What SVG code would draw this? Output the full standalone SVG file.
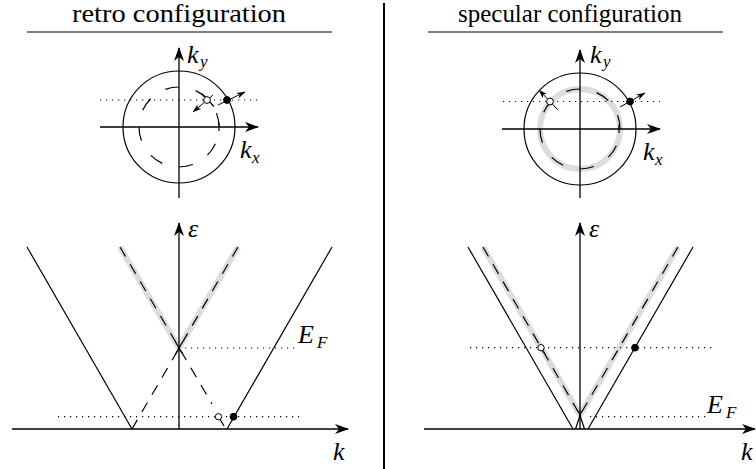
<svg xmlns="http://www.w3.org/2000/svg" width="756" height="469" viewBox="0 0 756 469">
<defs>
<style>
.ln{stroke:#000;stroke-width:1.2;fill:none}
.ax{stroke:#000;stroke-width:1.3;fill:none;marker-end:url(#big)}
.pa{stroke:#000;stroke-width:1;fill:none;marker-end:url(#sm)}
.dot{stroke:#000;stroke-width:1.2;fill:none;stroke-dasharray:1.2 4.8}
.dash{stroke:#000;stroke-width:1.2;fill:none;stroke-dasharray:11 9}
.gray{stroke:#dcdcdc;stroke-width:6;fill:none;stroke-linejoin:round}
.e{fill:#000;stroke:#000;stroke-width:1}
.h{fill:#fff;stroke:#000;stroke-width:1}
</style>
<marker id="big" viewBox="0 0 14 10" refX="13" refY="5" markerWidth="14" markerHeight="10" markerUnits="userSpaceOnUse" orient="auto">
<path d="M0,0 L14,5 L0,10 L4,5 Z" fill="#000"/>
</marker>
<marker id="sm" viewBox="0 0 9 6" refX="8.5" refY="3" markerWidth="9" markerHeight="6" markerUnits="userSpaceOnUse" orient="auto">
<path d="M0,0 L9,3 L0,6 L2.5,3 Z" fill="#000"/>
</marker>
</defs>

<g id="titles" font-family="'Liberation Serif', serif" font-size="25">
<text x="179" y="22" text-anchor="middle" textLength="214" lengthAdjust="spacingAndGlyphs">retro configuration</text>
<line class="ln" x1="27" y1="32" x2="332" y2="32" stroke-width="1.3"/>
<text x="570" y="22" text-anchor="middle" textLength="224" lengthAdjust="spacingAndGlyphs">specular configuration</text>
<line class="ln" x1="428" y1="32" x2="723" y2="32" stroke-width="1.3"/>
<line x1="384" y1="3" x2="384" y2="469" stroke="#000" stroke-width="2"/>
</g>

<g id="retro-k-space" font-family="'Liberation Serif', serif" font-style="italic" font-size="26">
<circle class="ln" cx="179" cy="127" r="56"/>
<path class="dash" style="stroke-dasharray:14 17.4" d="M179,87 A40,40 0 1 0 179,167 A40,40 0 1 0 179,87"/>
<line class="dot" x1="100" y1="100" x2="262" y2="100"/>
<line class="ax" x1="100" y1="127" x2="258" y2="127"/>
<line class="ax" x1="179" y1="198" x2="179" y2="48"/>
<line class="ln" x1="219" y1="122.5" x2="219" y2="131"/>
<line class="ln" x1="201.5" y1="93.5" x2="214" y2="106.5" stroke-width="1"/>
<line class="pa" x1="213" y1="95" x2="193" y2="112"/>
<circle class="h" cx="207" cy="100" r="3.4"/>
<line class="pa" x1="218" y1="105" x2="245" y2="92"/>
<circle class="e" cx="227" cy="100" r="3.4"/>
<text x="187" y="63">k</text><text x="200" y="67" font-size="17">y</text>
<text x="240" y="158">k</text><text x="252" y="163" font-size="17">x</text>
</g>

<g id="specular-k-space" font-family="'Liberation Serif', serif" font-style="italic" font-size="26">
<circle class="ln" cx="580" cy="129" r="56"/>
<circle class="gray" cx="580" cy="129" r="40" stroke-width="5"/>
<path class="dash" style="stroke-dasharray:14 17.4" d="M580,89 A40,40 0 1 0 580,169 A40,40 0 1 0 580,89"/>
<line class="dot" x1="503" y1="101.5" x2="660" y2="101.5"/>
<line class="ax" x1="502" y1="129" x2="660" y2="129"/>
<line class="ax" x1="580" y1="198" x2="580" y2="50"/>
<line class="ln" x1="619" y1="124.5" x2="619" y2="133"/>
<line class="pa" x1="558" y1="110" x2="539" y2="90"/>
<circle class="h" cx="550" cy="101.5" r="3.4"/>
<line class="pa" x1="620" y1="107" x2="645" y2="93"/>
<circle class="e" cx="630" cy="101.5" r="3.4"/>
<text x="590" y="63">k</text><text x="603" y="67" font-size="17">y</text>
<text x="643" y="160">k</text><text x="655" y="165" font-size="17">x</text>
</g>

<g id="retro-dispersion" font-family="'Liberation Serif', serif" font-style="italic" font-size="26">
<polyline class="gray" points="120,247 179,348 238,247"/>
<line class="dot" x1="179" y1="348" x2="297" y2="348"/>
<line class="dot" x1="58" y1="416.7" x2="300" y2="416.7"/>
<line class="ln" x1="27" y1="247" x2="132" y2="429"/>
<line class="ln" x1="227" y1="429" x2="332" y2="247"/>
<line class="dash" x1="120" y1="247" x2="212" y2="404"/>
<line class="dash" x1="238" y1="247" x2="132" y2="429"/>
<line class="ln" x1="175.5" y1="342" x2="182.5" y2="354"/>
<line class="ln" x1="182.5" y1="342" x2="175.5" y2="354"/>
<line class="ax" x1="179" y1="429" x2="179" y2="223"/>
<line class="ax" x1="12" y1="429" x2="348" y2="429"/>
<line class="ln" x1="218.5" y1="416.7" x2="224" y2="426"/>
<circle class="h" cx="218.5" cy="416.7" r="3.2"/>
<circle class="e" cx="233.5" cy="416.7" r="3.4"/>
<text x="188" y="237">ε</text>
<text x="298" y="343">E</text><text x="317" y="348" font-size="17">F</text>
<text x="333" y="460">k</text>
</g>

<g id="specular-dispersion" font-family="'Liberation Serif', serif" font-style="italic" font-size="26">
<polyline class="gray" points="483,247 580,415 678,247"/>
<line class="dot" x1="470" y1="347.7" x2="715" y2="347.7"/>
<line class="dot" x1="590" y1="416.7" x2="710" y2="416.7"/>
<line class="ln" x1="468" y1="247" x2="573" y2="429"/>
<line class="ln" x1="588" y1="429" x2="693" y2="247"/>
<line class="dash" x1="483" y1="247" x2="580" y2="415"/>
<line class="dash" x1="678" y1="247" x2="580" y2="415"/>
<line class="ln" x1="575.5" y1="429" x2="581.5" y2="411" stroke-width="1"/>
<line class="ln" x1="584.5" y1="429" x2="578.5" y2="411" stroke-width="1"/>
<line class="ax" x1="580" y1="429" x2="580" y2="223"/>
<line class="ax" x1="424" y1="429" x2="755" y2="429"/>
<line class="ln" x1="541" y1="347.7" x2="545" y2="354"/>
<circle class="h" cx="541" cy="347.7" r="3.2"/>
<circle class="e" cx="635" cy="347.7" r="3.4"/>
<text x="589" y="237">ε</text>
<text x="707" y="413">E</text><text x="726" y="418" font-size="17">F</text>
<text x="741" y="460">k</text>
</g>
</svg>
